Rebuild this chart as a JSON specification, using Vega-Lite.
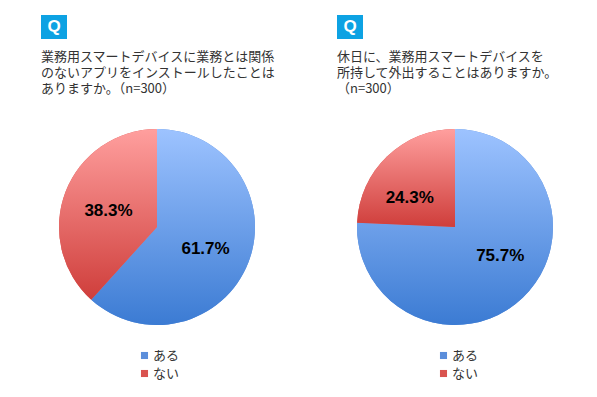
{
  "$schema": "https://vega.github.io/schema/vega-lite/v6.json",
  "padding": {"left": 41, "top": 15, "right": 44, "bottom": 17},
  "background": "white",
  "bounds": "flush",
  "spacing": 102,
  "config": {"view": {"stroke": null}, "font": "Noto Sans CJK JP"},
  "resolve": {"scale": {"color": "independent", "theta": "independent"}, "legend": {"color": "independent"}},
  "hconcat": [
    {
      "width": 196,
      "height": 196,
      "title": {
        "text": ["業務用スマートデバイスに業務とは関係", "のないアプリをインストールしたことは", "ありますか。（n=300）"],
        "anchor": "start", "frame": "group", "dx": -18, "offset": -81,
        "fontSize": 13, "fontWeight": "normal", "color": "#333333", "lineHeight": 16, "font": "Noto Sans CJK JP"
      },
      "data": {"values": [
        {"answer": "ある", "pct": 0.617, "order": 1},
        {"answer": "ない", "pct": 0.383, "order": 2}
      ]},
      "layer": [
        {
          "mark": {"type": "arc", "radius": 98},
          "encoding": {
            "theta": {"field": "pct", "type": "quantitative", "stack": true},
            "order": {"field": "order", "type": "quantitative"},
            "color": {"field": "answer", "type": "nominal",
              "scale": {"domain": ["ある", "ない"], "range": ["#5B8EDB", "#D9534F"]},
              "legend": {"orient": "none", "legendX": 79, "legendY": 220, "title": null, "padding": 0,
                "symbolType": "square", "symbolSize": 50, "symbolStrokeWidth": 0,
                "labelFontSize": 13, "labelFont": "Noto Sans CJK JP", "labelColor": "#333333", "rowPadding": 4, "labelOffset": 2}}
          }
        },
        {
          "mark": {"type": "arc", "radius": 98},
          "encoding": {
            "theta": {"field": "pct", "type": "quantitative", "stack": true},
            "order": {"field": "order", "type": "quantitative"},
            "fill": {
              "condition": {"test": "datum.answer === 'ある'", "value": {"gradient": "linear", "x1": 0, "y1": 0, "x2": 0, "y2": 1, "stops": [{"offset": 0, "color": "#9DC3FF"}, {"offset": 1, "color": "#3B7BD3"}]}},
              "value": {"gradient": "linear", "x1": 0, "y1": 0, "x2": 0, "y2": 1, "stops": [{"offset": 0, "color": "#FF9F9E"}, {"offset": 1, "color": "#CF3E3B"}]}
            }
          }
        },
        {
          "mark": {"type": "text", "radius": 52, "dy": 3, "fontSize": 17, "fontWeight": "bold", "font": "Liberation Sans", "color": "#000000"},
          "encoding": {
            "theta": {"field": "pct", "type": "quantitative", "stack": true},
            "order": {"field": "order", "type": "quantitative"},
            "text": {"field": "pct", "type": "quantitative", "format": ".1%"}
          }
        },
        {
          "data": {"values": [{"q": "Q"}]},
          "mark": {"type": "rect", "color": "#0DA2E3"},
          "encoding": {"x": {"value": -18}, "x2": {"value": 8}, "y": {"value": -114}, "y2": {"value": -90}}
        },
        {
          "data": {"values": [{"q": "Q"}]},
          "mark": {"type": "text", "color": "white", "fontSize": 17, "fontWeight": "bold", "font": "Liberation Sans", "align": "center", "baseline": "middle"},
          "encoding": {"x": {"value": -5}, "y": {"value": -102}, "text": {"field": "q"}}
        }
      ]
    },
    {
      "width": 196,
      "height": 196,
      "title": {
        "text": ["休日に、業務用スマートデバイスを", "所持して外出することはありますか。", "（n=300）"],
        "anchor": "start", "frame": "group", "dx": -20, "offset": -81,
        "fontSize": 13, "fontWeight": "normal", "color": "#333333", "lineHeight": 16, "font": "Noto Sans CJK JP"
      },
      "data": {"values": [
        {"answer": "ある", "pct": 0.757, "order": 1},
        {"answer": "ない", "pct": 0.243, "order": 2}
      ]},
      "layer": [
        {
          "mark": {"type": "arc", "radius": 98},
          "encoding": {
            "theta": {"field": "pct", "type": "quantitative", "stack": true},
            "order": {"field": "order", "type": "quantitative"},
            "color": {"field": "answer", "type": "nominal",
              "scale": {"domain": ["ある", "ない"], "range": ["#5B8EDB", "#D9534F"]},
              "legend": {"orient": "none", "legendX": 80, "legendY": 220, "title": null, "padding": 0,
                "symbolType": "square", "symbolSize": 50, "symbolStrokeWidth": 0,
                "labelFontSize": 13, "labelFont": "Noto Sans CJK JP", "labelColor": "#333333", "rowPadding": 4, "labelOffset": 2}}
          }
        },
        {
          "mark": {"type": "arc", "radius": 98},
          "encoding": {
            "theta": {"field": "pct", "type": "quantitative", "stack": true},
            "order": {"field": "order", "type": "quantitative"},
            "fill": {
              "condition": {"test": "datum.answer === 'ある'", "value": {"gradient": "linear", "x1": 0, "y1": 0, "x2": 0, "y2": 1, "stops": [{"offset": 0, "color": "#9DC3FF"}, {"offset": 1, "color": "#3B7BD3"}]}},
              "value": {"gradient": "linear", "x1": 0, "y1": 0, "x2": 0, "y2": 1, "stops": [{"offset": 0, "color": "#FF9F9E"}, {"offset": 1, "color": "#CF3E3B"}]}
            }
          }
        },
        {
          "mark": {"type": "text", "radius": 54, "thetaOffset": -0.23, "fontSize": 17, "fontWeight": "bold", "font": "Liberation Sans", "color": "#000000"},
          "encoding": {
            "theta": {"field": "pct", "type": "quantitative", "stack": true},
            "order": {"field": "order", "type": "quantitative"},
            "text": {"field": "pct", "type": "quantitative", "format": ".1%"}
          }
        },
        {
          "data": {"values": [{"q": "Q"}]},
          "mark": {"type": "rect", "color": "#0DA2E3"},
          "encoding": {"x": {"value": -20}, "x2": {"value": 6}, "y": {"value": -114}, "y2": {"value": -90}}
        },
        {
          "data": {"values": [{"q": "Q"}]},
          "mark": {"type": "text", "color": "white", "fontSize": 17, "fontWeight": "bold", "font": "Liberation Sans", "align": "center", "baseline": "middle"},
          "encoding": {"x": {"value": -7}, "y": {"value": -102}, "text": {"field": "q"}}
        }
      ]
    }
  ]
}
